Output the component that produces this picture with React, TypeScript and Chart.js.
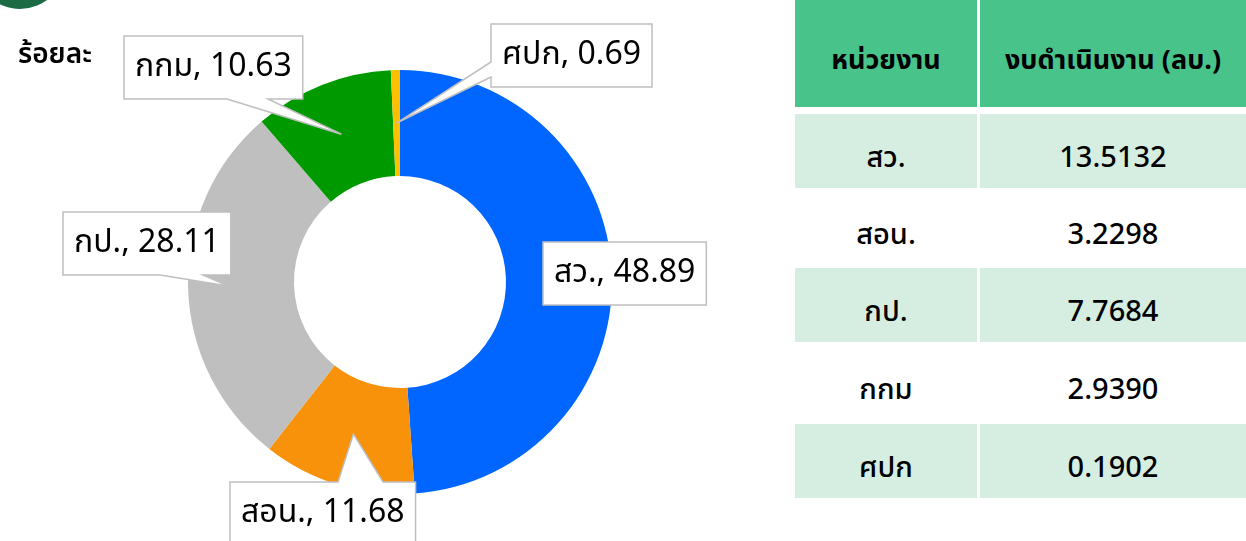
import React, { useEffect, useRef } from 'react';
import { Chart, registerables } from 'chart.js';

Chart.register(...registerables);

// ---- data ----
const units = ['สว.', 'สอน.', 'กป.', 'กกม', 'ศปก'];
const sharePercent = [48.89, 11.68, 28.11, 10.63, 0.69];
const budgetMB = [13.5132, 3.2298, 7.7684, 2.939, 0.1902];
const sliceColors = ['#0066FF', '#F8920B', '#BFBFBF', '#009A00', '#FFC000'];
const tableHeaders = ['หน่วยงาน', 'งบดำเนินงาน (ลบ.)'];
const unitTitle = 'ร้อยละ';

const FONT = '"Noto Sans Thai", "Noto Sans Thai UI", "Leelawadee UI", Tahoma, Garuda, Loma, "Noto Sans", "DejaVu Sans", sans-serif';

// callout placement (relative to doughnut centre)
type Callout = { dx: number; dy: number; edge: 'none' | 'top' | 'bottom' | 'left'; b1: number; b2: number; tip: number };
const callouts: Callout[] = [
  { dx: 143, dy: -40, edge: 'none', b1: 0, b2: 0, tip: 0.5 },
  { dx: -170, dy: 200, edge: 'top', b1: 108, b2: 153, tip: 0.5 },
  { dx: -337, dy: -70, edge: 'bottom', b1: 97, b2: 140, tip: 0.62 },
  { dx: -276, dy: -246, edge: 'bottom', b1: 103, b2: 144, tip: 0.5 },
  { dx: 91, dy: -258, edge: 'left', b1: 38, b2: 53, tip: 0.5 },
];

const calloutPlugin = {
  id: 'callouts',
  afterDraw(chart: any) {
    const ctx = chart.ctx as CanvasRenderingContext2D;
    const meta = chart.getDatasetMeta(0);
    const labels = chart.data.labels as string[];
    const values = chart.data.datasets[0].data as number[];
    ctx.save();
    ctx.font = `32px ${FONT}`;
    meta.data.forEach((arc: any, i: number) => {
      const p = arc.getProps(['x', 'y', 'startAngle', 'endAngle', 'innerRadius', 'outerRadius'], true);
      const mid = (p.startAngle + p.endAngle) / 2;
      const cfg = callouts[i];
      const r = p.innerRadius + (p.outerRadius - p.innerRadius) * cfg.tip;
      const tx = p.x + Math.cos(mid) * r;
      const ty = p.y + Math.sin(mid) * r;
      const text = `${labels[i]}, ${values[i].toFixed(2)}`;
      const w = ctx.measureText(text).width + 22;
      const h = 63;
      const L = p.x + cfg.dx;
      const T = p.y + cfg.dy;
      const R = L + w;
      const B = T + h;
      ctx.beginPath();
      ctx.moveTo(L, T);
      if (cfg.edge === 'top') {
        ctx.lineTo(L + cfg.b1, T);
        ctx.lineTo(tx, ty);
        ctx.lineTo(L + cfg.b2, T);
      }
      ctx.lineTo(R, T);
      ctx.lineTo(R, B);
      if (cfg.edge === 'bottom') {
        ctx.lineTo(L + cfg.b2, B);
        ctx.lineTo(tx, ty);
        ctx.lineTo(L + cfg.b1, B);
      }
      ctx.lineTo(L, B);
      if (cfg.edge === 'left') {
        ctx.lineTo(L, T + cfg.b2);
        ctx.lineTo(tx, ty);
        ctx.lineTo(L, T + cfg.b1);
      }
      ctx.closePath();
      ctx.fillStyle = '#FFFFFF';
      ctx.fill();
      ctx.lineWidth = 1.5;
      ctx.strokeStyle = '#BFBFBF';
      ctx.stroke();
      ctx.fillStyle = '#000000';
      ctx.textAlign = 'left';
      ctx.textBaseline = 'middle';
      ctx.fillText(text, L + 11, T + h / 2 + 2);
    });
    ctx.restore();
  },
};

function Doughnut() {
  const ref = useRef<HTMLCanvasElement | null>(null);
  useEffect(() => {
    if (!ref.current) return;
    const chart = new Chart(ref.current, {
      type: 'doughnut',
      data: {
        labels: units,
        datasets: [
          {
            data: sharePercent,
            backgroundColor: sliceColors,
            borderWidth: 0,
            hoverOffset: 0,
          },
        ],
      },
      options: {
        responsive: false,
        animation: false,
        cutout: '50%',
        layout: { padding: { left: 188, right: 168, top: 70, bottom: 47 } },
        plugins: { legend: { display: false }, tooltip: { enabled: false } },
      },
      plugins: [calloutPlugin],
    });
    return () => chart.destroy();
  }, []);
  return <canvas ref={ref} width={780} height={541} style={{ position: 'absolute', left: 0, top: 0, width: 780, height: 541 }} />;
}

export default function App() {
  useEffect(() => {
    document.body.style.margin = '0';
  }, []);
  const rowTops = [114, 191, 268, 346, 424];
  const cell = (left: number, width: number, top: number, height: number, bg: string, text: string, bold: boolean, key: string) => (
    <div
      key={key}
      style={{
        position: 'absolute',
        left,
        top,
        width,
        height,
        boxSizing: 'border-box',
        paddingTop: 14,
        background: bg,
        display: 'flex',
        alignItems: 'center',
        justifyContent: 'center',
        fontFamily: FONT,
        fontSize: bold ? 27 : 29,
        fontWeight: bold ? 700 : 500,
        color: '#000',
      }}
    >
      {text}
    </div>
  );
  return (
    <div style={{ position: 'relative', width: 1246, height: 541, overflow: 'hidden', background: '#fff' }}>
      <div style={{ position: 'absolute', left: -25, top: -81, width: 90, height: 90, borderRadius: '50%', background: '#1B6B45' }} />
      <Doughnut />
      <div style={{ position: 'absolute', left: 18, top: 33, fontFamily: FONT, fontSize: 28, fontWeight: 600, color: '#000', whiteSpace: 'nowrap' }}>
        {unitTitle}
      </div>
      {cell(795, 182, 0, 107, '#48C38A', tableHeaders[0], true, 'h0')}
      {cell(980, 266, 0, 107, '#48C38A', tableHeaders[1], true, 'h1')}
      {units.map((u, i) => {
        const bg = i % 2 === 0 ? '#D6EEE2' : 'transparent';
        return (
          <React.Fragment key={u}>
            {cell(795, 182, rowTops[i], 74, bg, u, false, 'a' + i)}
            {cell(980, 266, rowTops[i], 74, bg, budgetMB[i].toFixed(4), false, 'b' + i)}
          </React.Fragment>
        );
      })}
    </div>
  );
}
